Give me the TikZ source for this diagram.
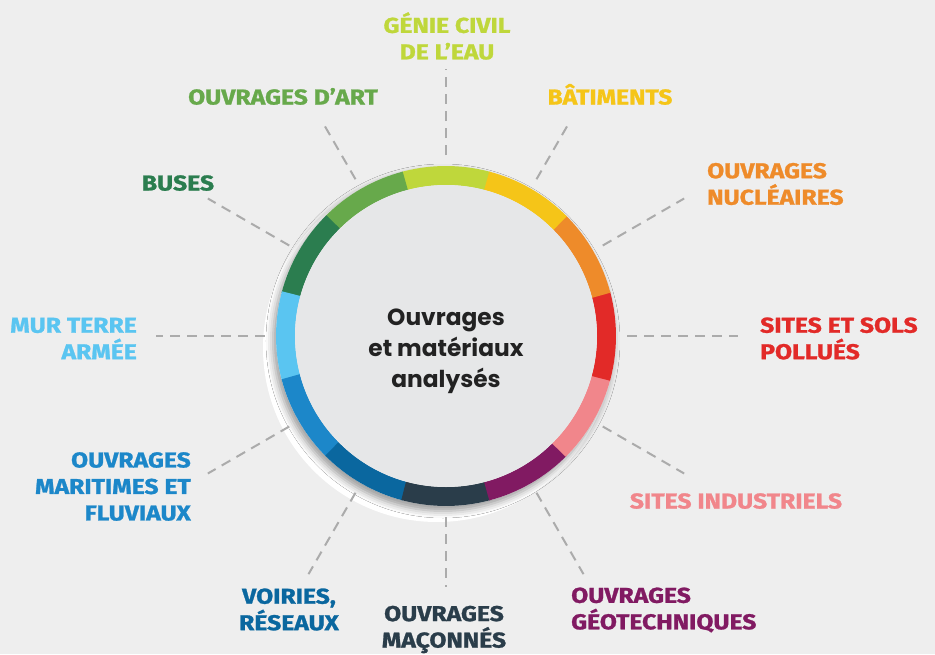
\documentclass[tikz,border=0pt]{standalone}
\usepackage{fontspec}
\setmainfont{Fira Sans}
\newfontfamily\labfont{Fira Sans}[FakeStretch=1.15, FakeBold=1.2]
\newfontfamily\ctrfont{Poppins}
\usetikzlibrary{shadows.blur}
\definecolor{bg}{HTML}{EEEEEE}
\definecolor{inner}{HTML}{E6E7E8}
\definecolor{lineGray}{HTML}{ABABAB}
\definecolor{ctrText}{HTML}{222222}
\definecolor{cLime}{HTML}{BFD73B}
\definecolor{cYellow}{HTML}{F5C518}
\definecolor{cOrange}{HTML}{EE8B2A}
\definecolor{cRed}{HTML}{E22A28}
\definecolor{cPink}{HTML}{F1868B}
\definecolor{cPurple}{HTML}{811A62}
\definecolor{cSlate}{HTML}{2A3D4A}
\definecolor{cDarkBlue}{HTML}{0A679F}
\definecolor{cBlue}{HTML}{1C87C9}
\definecolor{cLightBlue}{HTML}{5AC5F1}
\definecolor{cDarkGreen}{HTML}{2B7D4F}
\definecolor{cGreen}{HTML}{67A94B}
\begin{document}
\begin{tikzpicture}[x=1pt,y=1pt,
  lab/.style={font=\labfont\bfseries\fontsize{21.5}{26.5}\selectfont, inner sep=0pt},
  conn/.style={draw=lineGray, line width=2pt, dash pattern=on 10pt off 7pt},
  seg/.style={line width=19pt}]
\fill[bg] (-446,-318) rectangle (489,336);
\useasboundingbox (-446,-318) rectangle (489,336);
% shadow rim
\fill[white] (-9,-12) circle (174);
\path[fill=inner, blur shadow={shadow xshift=-3pt, shadow yshift=-5pt, shadow blur radius=7pt, shadow opacity=40}] (0,0) circle (170);
% ring
\foreach \c/\col in {90/cLime,120/cGreen,150/cDarkGreen,180/cLightBlue,210/cBlue,240/cDarkBlue,270/cSlate,300/cPurple,330/cPink,360/cRed,30/cOrange,60/cYellow}{
  \draw[seg, draw=\col] (\c-15.3:160.5) arc (\c-15.3:\c+15.3:160.5);
}
\fill[inner] (0,0) circle (151);
\node[font=\ctrfont\bfseries\fontsize{23.3}{31}\selectfont, align=center, text=ctrText, inner sep=0pt] (ctr) at (0,-15) {Ouvrages\\et matériaux\\analysés};
% connectors
\foreach \n/\a/\r in {1/90/267,2/120/247,3/60/247,4/30/275,5/150/275,6/180/290,7/0/292,8/210/275,9/330/275,10/240/275,11/270/251,12/300/275}{
  \coordinate (i\n) at (\a:181);
  \coordinate (o\n) at (\a:\r);
}
\foreach \n in {1,...,12}{\draw[conn] (i\n) -- (o\n);}
% labels
\node[lab, text=cLime, align=center] (l1) at (1,300) {GÉNIE CIVIL\\DE L’EAU};
\node[lab, text=cGreen, anchor=base] (l2) at (-163,231.5) {OUVRAGES D’ART};
\node[lab, text=cYellow, anchor=base] (l3) at (164,231.5) {BÂTIMENTS};
\node[lab, text=cOrange, align=left, anchor=west] (l4) at (261,152) {OUVRAGES\\NUCLÉAIRES};
\node[lab, text=cDarkGreen, anchor=base] (l5) at (-268,145.5) {BUSES};
\node[lab, text=cLightBlue, align=right, anchor=east] (l6) at (-309,-2.5) {MUR TERRE\\ARMÉE};
\node[lab, text=cRed, align=left, anchor=west] (l7) at (314,-2.5) {SITES ET SOLS\\POLLUÉS};
\node[lab, text=cBlue, align=right, anchor=east] (l8) at (-255,-150.5) {OUVRAGES\\MARITIMES ET\\FLUVIAUX};
\node[lab, text=cPink, anchor=base] (l9) at (290,-172.5) {SITES INDUSTRIELS};
\node[lab, text=cDarkBlue, align=center] (l10) at (-157,-273.5) {VOIRIES,\\RÉSEAUX};
\node[lab, text=cSlate, align=center] (l11) at (-2,-293.5) {OUVRAGES\\MAÇONNÉS};
\node[lab, text=cPurple, align=left, anchor=west] (l12) at (125,-274) {OUVRAGES\\GÉOTECHNIQUES};
\end{tikzpicture}
\end{document}
